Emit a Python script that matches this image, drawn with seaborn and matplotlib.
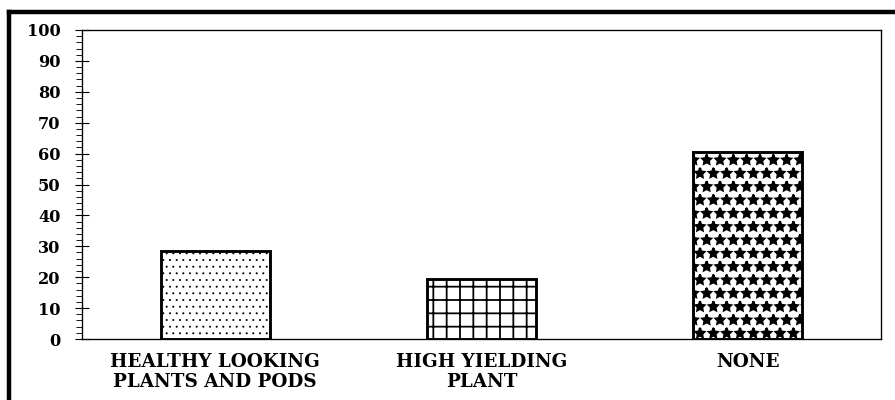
import matplotlib
matplotlib.use("Agg")
import matplotlib.pyplot as plt
import seaborn as sns
import pandas as pd
from matplotlib.ticker import MultipleLocator
from matplotlib.lines import Line2D

categories = ["HEALTHY LOOKING\nPLANTS AND PODS", "HIGH YIELDING\nPLANT", "NONE"]
values = [28.5, 19.5, 60.5]
hatches = ["..", "+", "*"]
hatch_widths = [0.6, 1.6, 2.0]

sns.set_theme(style="white")
plt.rcParams["font.family"] = ["DejaVu Serif"]
plt.rcParams["font.weight"] = "bold"
plt.rcParams["hatch.linewidth"] = 1.3

df = pd.DataFrame({"cat": categories, "val": values})

DPI = 80
fig = plt.figure(figsize=(895 / DPI, 400 / DPI), dpi=DPI)
ax = fig.add_axes([82 / 895, 1 - 339 / 400, (881 - 82) / 895, (339 - 30) / 400])

sns.barplot(data=df, x="cat", y="val", ax=ax, color="white", width=0.41,
            edgecolor="black", linewidth=2.6, saturation=1)
for p, h, hw in zip(ax.patches, hatches, hatch_widths):
    p.set_hatch(h)
    p.set_facecolor("white")
    p.set_edgecolor("black")
    if hasattr(p, "set_hatch_linewidth"):
        p.set_hatch_linewidth(hw)

ax.set_ylim(0, 100)
ax.set_xlim(-0.5, 2.5)
ax.yaxis.set_major_locator(MultipleLocator(10))
ax.yaxis.set_minor_locator(MultipleLocator(2))
ax.tick_params(axis="y", which="major", direction="inout", length=13, width=1,
               color="black", labelsize=14.5, pad=13, left=True)
ax.tick_params(axis="y", which="minor", direction="out", length=5, width=0.8,
               color="black", left=True)
ax.tick_params(axis="x", which="both", length=0, labelsize=16.5, pad=13)
for lab in ax.get_yticklabels() + ax.get_xticklabels():
    lab.set_fontweight("bold")
    lab.set_color("black")
for lab in ax.get_xticklabels():
    lab.set_linespacing(1.12)
ax.set_xlabel("")
ax.set_ylabel("")
for s in ax.spines.values():
    s.set_visible(True)
    s.set_color("black")
    s.set_linewidth(1.2)

# outer frame (left and top)
fig.add_artist(Line2D([8.5 / 895, 8.5 / 895], [0, 1 - 12 / 400], transform=fig.transFigure,
                      color="black", linewidth=4, solid_capstyle="projecting"))
fig.add_artist(Line2D([8.5 / 895, 1], [1 - 12 / 400, 1 - 12 / 400], transform=fig.transFigure,
                      color="black", linewidth=4, solid_capstyle="projecting"))

fig.savefig("out.png", dpi=DPI)
